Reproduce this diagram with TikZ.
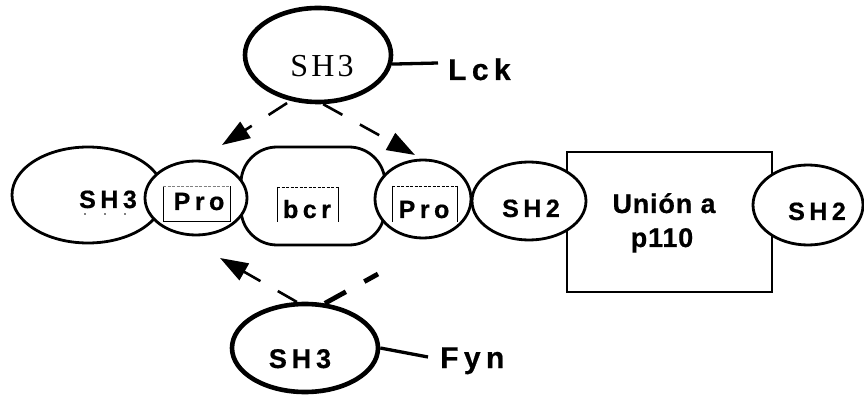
\documentclass[tikz,border=0pt]{standalone}
\usepackage{fontspec}
\setmainfont{Liberation Sans}
\newfontfamily\lblfont[LetterSpace=18,BoldFeatures={FakeBold=0.6}]{Liberation Sans}
\newfontfamily\plainlbl[LetterSpace=3,BoldFeatures={FakeBold=0.6}]{Liberation Sans}
\newfontfamily\seriflbl[LetterSpace=10]{Liberation Serif}
\usetikzlibrary{shapes.geometric,arrows.meta}

\begin{document}
\begin{tikzpicture}[x=1pt,y=-1pt,
  dom/.style={ellipse,draw,line width=2.8pt,fill=white,inner sep=0pt},
  partner/.style={ellipse,draw,line width=4.6pt,fill=white,inner sep=0pt},
  lbl/.style={font=\lblfont\bfseries\fontsize{25}{28}\selectfont,inner sep=0pt,anchor=base},
  biglbl/.style={font=\lblfont\bfseries\fontsize{30}{32}\selectfont,inner sep=0pt,anchor=base west},
  link/.style={line width=3.3pt},
  flow/.style={line width=2.6pt,dash pattern=on 22pt off 20pt,-{Triangle[length=28pt,width=19pt]}},
  boxline/.style={line width=0.9pt},
  boxtop/.style={line width=0.7pt,dash pattern=on 3pt off 1.5pt}]

\useasboundingbox (0,0) rectangle (864,395);

% central chain of domains
\node[dom,minimum width=152pt,minimum height=96pt] (sh3L) at (88,195) {};
\node[draw,line width=2.8pt,fill=white,rounded corners=36pt,
      minimum width=144pt,minimum height=98pt] (bcr) at (313,196) {};
\node[dom,minimum width=102pt,minimum height=74pt] (proL) at (196,198) {};
\node[dom,minimum width=96pt,minimum height=78pt] (proR) at (423,199) {};
\node[draw,line width=2.7pt,fill=white,minimum width=205pt,minimum height=140pt,inner sep=0pt]
      (p110box) at (669.5,222) {};
\node[dom,minimum width=114pt,minimum height=78pt] (sh2a) at (529,201) {};
\node[dom,minimum width=110pt,minimum height=80pt] (sh2b) at (808,205) {};

% labels in the chain
\node[lbl] (tSH3L) at (108,208) {SH3};
\node[lbl] (tProL) at (199,210) {Pro};
\node[lbl] (tBcr) at (307,218) {bcr};
\node[lbl] (tProR) at (424,218) {Pro};
\node[lbl] (tSH2a) at (531,217) {SH2};
\node[lbl] (tSH2b) at (817,220) {SH2};
\node[font=\plainlbl\bfseries\fontsize{27}{30}\selectfont,inner sep=0pt,anchor=base]
      (tUnion) at (664,213) {Unión a};
\node[font=\plainlbl\bfseries\fontsize{27}{30}\selectfont,inner sep=0pt,anchor=base]
      (tP110) at (662,247) {p110};

% frames round the motif labels
\draw[boxline] (163,186) -- (163,221) -- (230,221) -- (230,186);
\draw[boxtop,gray] (163,186) -- (230,186);
\draw[boxline] (277,187) -- (277,222);
\draw[boxline] (338,187) -- (338,222);
\draw[boxtop] (277,187) -- (338,187);
\draw[boxline] (392,186) -- (392,222);
\draw[boxline] (457,186) -- (457,222);
\draw[boxtop] (392,186) -- (457,186);

% specks beside the SH3 labels
\foreach \px in {85,105,125} \fill (\px,214) circle (0.9pt);
\foreach \px in {268,288,308,328} \fill (\px,338) circle (0.9pt);

% the two partner SH3 domains
\node[partner,minimum width=146pt,minimum height=94pt] (sh3T) at (318,55) {};
\node[font=\seriflbl\fontsize{32}{34}\selectfont,inner sep=0pt,anchor=base] (tSH3T) at (322,77) {SH3};
\node[partner,minimum width=146pt,minimum height=88pt] (sh3B) at (305,348) {};
\node[font=\lblfont\bfseries\fontsize{27}{30}\selectfont,inner sep=0pt,anchor=base] (tSH3B) at (300,368) {SH3};

% kinase names
\coordinate (lckEnd) at (438,63);
\coordinate (fynEnd) at (428,357);
\draw[link] (sh3T.-7) -- (lckEnd);
\draw[link] (sh3B.east) -- (fynEnd);
\node[biglbl] (lck) at (448,80) {Lck};
\node[biglbl] (fyn) at (440,368) {Fyn};

% binding arrows
\coordinate (tipTL) at (222,145);
\coordinate (tipTR) at (415,155);
\coordinate (tipBL) at (220,258);
\coordinate (endBR) at (378,274);
\draw[flow,dash phase=-4pt] (sh3T.-121) -- (tipTL);
\draw[flow] (sh3T.-84) -- (tipTR);
\draw[flow] (sh3B.100) -- (tipBL);
\draw[line width=4.8pt,dash pattern=on 24pt off 21pt] (sh3B.66) -- (endBR);

\end{tikzpicture}
\end{document}
